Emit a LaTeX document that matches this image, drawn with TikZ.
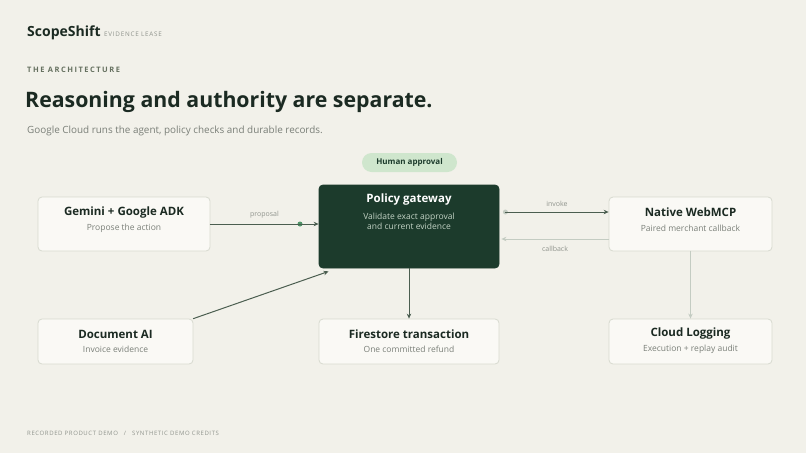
\documentclass[tikz,border=0pt]{standalone}
\usepackage{fontspec}
\setmainfont{Open Sans}
\newfontfamily\spacedfont[LetterSpace=20]{Open Sans}
\newfontfamily\widefont[LetterSpace=12]{Open Sans}
\newfontfamily\footfont[LetterSpace=10]{Open Sans}
\usetikzlibrary{arrows.meta}

\definecolor{paper}{HTML}{F2F1EA}
\definecolor{ink}{HTML}{1B2A22}
\definecolor{deepgreen}{HTML}{1C3B2C}
\definecolor{boxfill}{HTML}{FAF9F5}
\definecolor{boxline}{HTML}{D8DAD0}
\definecolor{muted}{HTML}{7A7F78}
\definecolor{pale}{HTML}{90948D}
\definecolor{kicker}{HTML}{65705F}
\definecolor{pillfill}{HTML}{CFE6CD}
\definecolor{gatesub}{HTML}{C3D3C5}
\definecolor{arrowdk}{HTML}{4B5E50}
\definecolor{arrowlt}{HTML}{C4CCC2}
\definecolor{dotgreen}{HTML}{4E9468}

\begin{document}
\begin{tikzpicture}[x=1pt,y=-1pt,line cap=round,line join=round,
  box/.style={draw=boxline,fill=boxfill,rounded corners=4pt,line width=0.8pt,inner sep=0pt},
  ttl/.style={font=\fontsize{11.5}{13}\selectfont\bfseries,text=ink},
  sub/.style={font=\fontsize{8.5}{10}\selectfont,text=muted},
  lbl/.style={font=\fontsize{7}{8}\selectfont,text=pale},
  flow/.style={-{Stealth[length=5pt,width=4.5pt]},line width=1pt,draw=arrowdk},
  faint/.style={flow,draw=arrowlt},
  dotnode/.style={circle,inner sep=0pt,minimum size=5pt}]

\fill [paper] (0,0) rectangle (806,453);
\useasboundingbox (0,0) rectangle (806,453);

% header
\node [anchor=base west,inner sep=0pt,font=\fontsize{14}{16}\selectfont\bfseries,text=ink] (brand) at (27,36) {ScopeShift};
\node [anchor=base west,inner sep=0pt,font=\fontsize{6.3}{7}\selectfont\widefont,text=pale] (lease) at (104,36) {EVIDENCE LEASE};
\node [anchor=base west,inner sep=0pt,font=\fontsize{7.5}{9}\selectfont\spacedfont\bfseries,text=kicker] (kick) at (27,72) {THE ARCHITECTURE};
\node [anchor=base west,inner sep=0pt,font=\fontsize{21.3}{26}\selectfont\bfseries,text=ink] (head) at (25,107) {Reasoning and authority are separate.};
\node [anchor=base west,inner sep=0pt,font=\fontsize{9.9}{12}\selectfont,text=muted] (lede) at (27,133) {Google Cloud runs the agent, policy checks and durable records.};

% boxes
\node [box,minimum width=172pt,minimum height=54pt] (gemini) at (124,224) {};
\node [box,minimum width=155pt,minimum height=45pt] (docai) at (115.5,341.5) {};
\node [box,draw=deepgreen,fill=deepgreen,minimum width=180pt,minimum height=83pt] (gateway) at (409,226.5) {};
\node [box,minimum width=180pt,minimum height=45pt] (firestore) at (409,341.5) {};
\node [box,minimum width=163pt,minimum height=54pt] (webmcp) at (690.5,224) {};
\node [box,minimum width=163pt,minimum height=45pt] (logging) at (690.5,341.5) {};
\node [fill=pillfill,rounded corners=9.5pt,minimum width=95pt,minimum height=19pt,inner sep=0pt,
  font=\fontsize{8}{9}\selectfont\bfseries,text=deepgreen] (approval) at (409.5,162.5) {Human approval};

% box texts
\node [ttl] (gemini-t) at (124,213) {Gemini + Google ADK};
\node [sub] (gemini-s) at (124,228) {Propose the action};
\node [ttl] (docai-t) at (115.5,334) {Document AI};
\node [sub] (docai-s) at (115.5,349.5) {Invoice evidence};
\node [ttl,text=white] (gateway-t) at (409,200) {Policy gateway};
\node [sub,text=gatesub,align=center] (gateway-s) at (409,221.5) {Validate exact approval\\and current evidence};
\node [ttl] (firestore-t) at (409,334) {Firestore transaction};
\node [sub] (firestore-s) at (409,349.5) {One committed refund};
\node [ttl] (webmcp-t) at (690.5,212) {Native WebMCP};
\node [sub] (webmcp-s) at (690.5,228) {Paired merchant callback};
\node [ttl] (logging-t) at (690.5,334) {Cloud Logging};
\node [sub] (logging-s) at (690.5,349.5) {Execution + replay audit};

% connectors
\coordinate (inv) at ([yshift=12pt]webmcp.west);
\coordinate (cbk) at ([yshift=-15pt]webmcp.west);
\node [dotnode,fill=dotgreen] (propdot) at (300,224) {};
\node [dotnode,fill=arrowlt] (invdot) at ([xshift=6pt]inv -| gateway.east) {};

\draw [flow] (gemini.east) -- (gemini.east -| gateway.west) node [midway,above=2pt,lbl] {proposal};
\draw [flow] (invdot.center) -- (inv) node [midway,above=2pt,lbl] {invoke};
\draw [faint] (cbk) -- ([xshift=2pt]cbk -| gateway.east) node [midway,below=3pt,lbl] {callback};
\draw [flow] (docai.north east) -- ([xshift=10pt,yshift=-3pt]gateway.south west);
\draw [flow] (gateway.south) -- (firestore.north);
\draw [faint] (webmcp.south) -- (logging.north);

% footer
\node [anchor=base west,inner sep=0pt,font=\fontsize{6}{7}\selectfont\footfont,text=pale] (foot) at (27,435) {RECORDED PRODUCT DEMO\quad/\quad SYNTHETIC DEMO CREDITS};
\end{tikzpicture}
\end{document}
